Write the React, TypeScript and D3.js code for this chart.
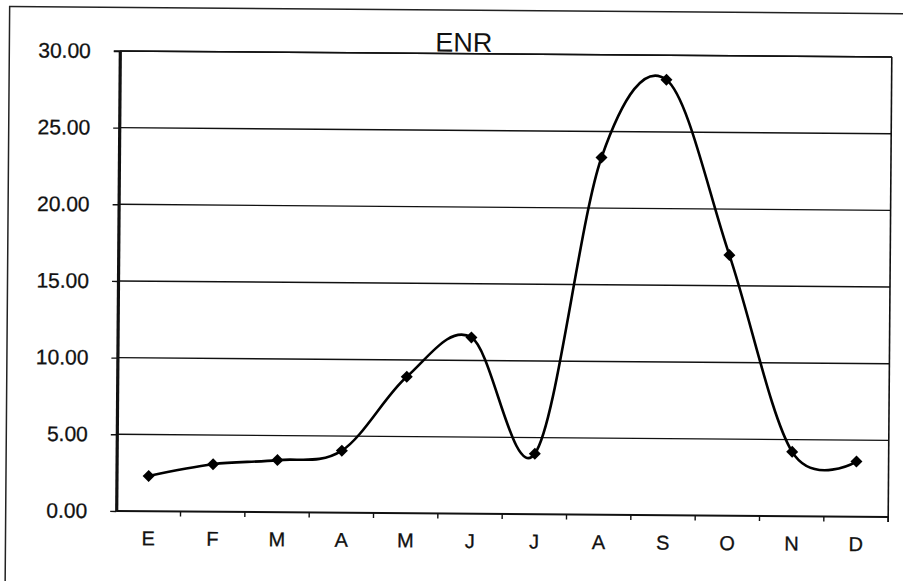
import * as d3 from "d3";
import React, { useRef, useEffect } from "react";

// ENR monthly values (E = enero ... D = diciembre)
const months = ["E", "F", "M", "A", "M", "J", "J", "A", "S", "O", "N", "D"];
const values = [2.3, 3.1, 3.4, 4.05, 8.9, 11.5, 3.95, 23.3, 28.4, 17.0, 4.2, 3.6];
const yTicks = [0, 5, 10, 15, 20, 25, 30];
const title = "ENR";

const W = 903;
const H = 581;
const FONT = "'Liberation Sans', Arial, sans-serif";

function App() {
  const ref = useRef<SVGSVGElement>(null);

  useEffect(() => {
    draw();
  }, []);

  const draw = () => {
    const svg = d3.select(ref.current);
    svg.selectAll("*").remove();

    const left = 118,
      right = 890,
      top = 54,
      bottom = 514;

    // the scan is slightly tilted
    const g = svg.append("g").attr("transform", "rotate(0.45, 504, 284)");

    // outer chart frame (cut off at right / bottom)
    g.append("rect")
      .attr("x", 7.5)
      .attr("y", 10.5)
      .attr("width", 1000)
      .attr("height", 700)
      .attr("fill", "none")
      .attr("stroke", "#222")
      .attr("stroke-width", 1.5);

    const x = d3.scaleBand<number>().domain(d3.range(months.length)).range([left, right]);
    const y = d3.scaleLinear().domain([0, 30]).range([bottom, top]);

    // gridlines
    g.append("g")
      .selectAll("line")
      .data(yTicks.filter((d) => d > 0))
      .enter()
      .append("line")
      .attr("x1", left)
      .attr("x2", right)
      .attr("y1", (d) => y(d))
      .attr("y2", (d) => y(d))
      .attr("stroke", "#111")
      .attr("stroke-width", 1.4);

    // right border of plot area
    g.append("line")
      .attr("x1", right)
      .attr("x2", right)
      .attr("y1", top)
      .attr("y2", bottom + 5)
      .attr("stroke", "#111")
      .attr("stroke-width", 1.6);

    // x axis labels
    const xAxis = d3
      .axisBottom(x)
      .tickFormat((i) => months[i as number])
      .tickSize(0)
      .tickPadding(20);
    const gx = g.append("g").attr("transform", `translate(0,${bottom})`).call(xAxis);
    gx.select(".domain").remove();
    gx.selectAll("text")
      .attr("font-family", FONT)
      .attr("font-size", 20)
      .attr("fill", "#111")
      .attr("stroke", "#111")
      .attr("stroke-width", 0.3);

    // bottom axis line + ticks at category boundaries
    g.append("line")
      .attr("x1", left)
      .attr("x2", right)
      .attr("y1", bottom)
      .attr("y2", bottom)
      .attr("stroke", "#111")
      .attr("stroke-width", 2);
    g.append("g")
      .selectAll("line")
      .data(d3.range(1, months.length + 1))
      .enter()
      .append("line")
      .attr("x1", (i) => left + x.step() * i)
      .attr("x2", (i) => left + x.step() * i)
      .attr("y1", bottom)
      .attr("y2", bottom + 5)
      .attr("stroke", "#111")
      .attr("stroke-width", 1.4);

    // y axis
    const yAxis = d3
      .axisLeft(y)
      .tickValues(yTicks)
      .tickFormat(d3.format(".2f"))
      .tickSize(6)
      .tickSizeOuter(0)
      .tickPadding(23);
    const gy = g.append("g").attr("transform", `translate(${left},0)`).call(yAxis);
    gy.select(".domain").attr("stroke", "#111").attr("stroke-width", 3.2);
    gy.selectAll(".tick line").attr("stroke", "#111").attr("stroke-width", 1.4);
    gy.selectAll("text")
      .attr("font-family", FONT)
      .attr("font-size", 21)
      .attr("fill", "#111")
      .attr("stroke", "#111")
      .attr("stroke-width", 0.3);

    // top border
    g.append("line")
      .attr("x1", left - 6)
      .attr("x2", right)
      .attr("y1", top)
      .attr("y2", top)
      .attr("stroke", "#111")
      .attr("stroke-width", 1.6);

    // title
    g.append("text")
      .attr("x", 462)
      .attr("y", top - 2)
      .attr("text-anchor", "middle")
      .attr("font-family", FONT)
      .attr("font-size", 27)
      .attr("fill", "#111")
      .text(title);

    // smoothed line
    const cx = (i: number) => (x(i) as number) + x.bandwidth() / 2;
    const line = d3
      .line<number>()
      .x((d, i) => cx(i))
      .y((d) => y(d))
      .curve(d3.curveCatmullRom.alpha(0));

    g.append("path")
      .datum(values)
      .attr("d", line)
      .attr("fill", "none")
      .attr("stroke", "#000")
      .attr("stroke-width", 2.6);

    // diamond markers
    const diamond = d3.symbol().type(d3.symbolSquare).size(72);
    g.append("g")
      .selectAll("path")
      .data(values)
      .enter()
      .append("path")
      .attr("d", diamond)
      .attr("transform", (d, i) => `translate(${cx(i)},${y(d)}) rotate(45)`)
      .attr("fill", "#000");
  };

  return (
    <svg
      ref={ref}
      width={W}
      height={H}
      style={{ position: "absolute", left: 0, top: 0, background: "#fff" }}
    ></svg>
  );
}

export default App;
